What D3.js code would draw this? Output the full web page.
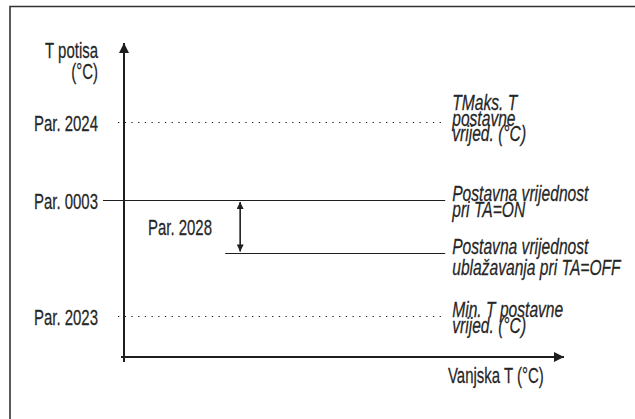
<!DOCTYPE html>
<html><head><meta charset="utf-8">
<script src="https://cdn.jsdelivr.net/npm/d3@7"></script>
<style>
html,body{margin:0;padding:0;background:#fff;}
text{font-family:'Liberation Sans',Arial,sans-serif;fill:#262626;font-size:22px;stroke:#262626;stroke-width:0.25px;}
</style></head><body>
<script>
// ---- data ----
const levelNames = ["Par. 2024", "Par. 0003", "Par. 2028", "Par. 2023"];
const levelValues = [75, 50, 33, 13];
const levelKinds = ["dotted", "solid", "solid", "dotted"];
const levelLabels = [
  ["TMaks. T", "postavne", "vrijed. (°C)"],
  ["Postavna vrijednost", "pri TA=ON"],
  ["Postavna vrijednost", "ublažavanja pri TA=OFF"],
  ["Min. T postavne", "vrijed. (°C)"]
];
const offsetStart = 23;    // x where reduced line starts
const offsetArrowX = 26.4; // x of Par. 2028 arrow
const lineEndX = 73;
const yAxisTitle = ["T potisa", "(°C)"];
const xAxisTitle = "Vanjska T (°C)";

const W = 635, H = 419;
const svg = d3.select("body").append("svg").attr("width", W).attr("height", H);
const x = d3.scaleLinear().domain([0, 100]).range([124, 564]);
const y = d3.scaleLinear().domain([0, 100]).range([357, 43]);
const ink = "#1e1e1e";

function label(px, py, lines, opts = {}) {
  const sx = opts.italic ? 0.71 : 0.68;
  const t = svg.append("text")
    .attr("transform", `translate(${px},${py}) scale(${sx},1)`)
    .attr("text-anchor", opts.anchor || "start")
    .style("font-style", opts.italic ? "italic" : "normal");
  lines.forEach((l, i) => t.append("tspan").attr("x", 0).attr("dy", i === 0 ? 0 : (opts.lh || 16)).text(l));
  return t;
}

// frame (only top and left visible)
svg.append("path").attr("d", `M10,${H + 5} V6.5 H${W + 5}`).attr("fill", "none").attr("stroke", "#333").attr("stroke-width", 1.6);

// markers
const defs = svg.append("defs");
defs.append("marker").attr("id", "ah").attr("viewBox", "0 0 10 10").attr("refX", 10).attr("refY", 5)
  .attr("markerWidth", 10).attr("markerHeight", 10).attr("markerUnits", "userSpaceOnUse").attr("orient", "auto-start-reverse")
  .append("path").attr("d", "M0,0 L10,5 L0,10 Z").attr("fill", ink);
defs.append("marker").attr("id", "ahs").attr("viewBox", "0 0 10 10").attr("refX", 10).attr("refY", 5)
  .attr("markerWidth", 8).attr("markerHeight", 7).attr("markerUnits", "userSpaceOnUse").attr("orient", "auto-start-reverse")
  .append("path").attr("d", "M0,0 L10,5 L0,10 Z").attr("fill", ink);

// level lines
levelNames.forEach((name, i) => {
  const yy = Math.round(y(levelValues[i])) + 0.5;
  const isOff = i === 2;
  let x0;
  if (levelKinds[i] === "dotted") x0 = x(0) - 6;
  else if (isOff) x0 = x(offsetStart);
  else x0 = 103;
  svg.append("line").attr("x1", x0).attr("x2", x(lineEndX)).attr("y1", yy).attr("y2", yy)
    .attr("stroke", ink).attr("stroke-width", levelKinds[i] === "dotted" ? 1.2 : 1.1)
    .attr("stroke-dasharray", levelKinds[i] === "dotted" ? "1.3,5.4" : null);
  if (!isOff) label(98, yy + 8, [name], { anchor: "end" });
  label(x(lineEndX) + 7, i === 0 ? yy - 13 : yy, levelLabels[i], { italic: true, lh: i === 2 ? 22 : 16 });
});

// Par. 2028 label and double arrow
label(212, (y(levelValues[1]) + y(levelValues[2])) / 2 + 8, [levelNames[2]], { anchor: "end" });
svg.append("line").attr("x1", x(offsetArrowX)).attr("x2", x(offsetArrowX))
  .attr("y1", y(levelValues[1]) + 2).attr("y2", y(levelValues[2]) - 2)
  .attr("stroke", ink).attr("stroke-width", 1.6)
  .attr("marker-start", "url(#ahs)").attr("marker-end", "url(#ahs)");

// axes
svg.append("line").attr("x1", x(0)).attr("x2", x(0)).attr("y1", y(0) + 5).attr("y2", y(100))
  .attr("stroke", ink).attr("stroke-width", 2).attr("marker-end", "url(#ah)");
svg.append("line").attr("x1", x(0) - 3).attr("x2", x(100)).attr("y1", y(0)).attr("y2", y(0))
  .attr("stroke", ink).attr("stroke-width", 2).attr("marker-end", "url(#ah)");

// axis titles
label(98, 58, yAxisTitle, { anchor: "end", lh: 21 });
label(448, 383, [xAxisTitle]);
</script>
</body></html>
